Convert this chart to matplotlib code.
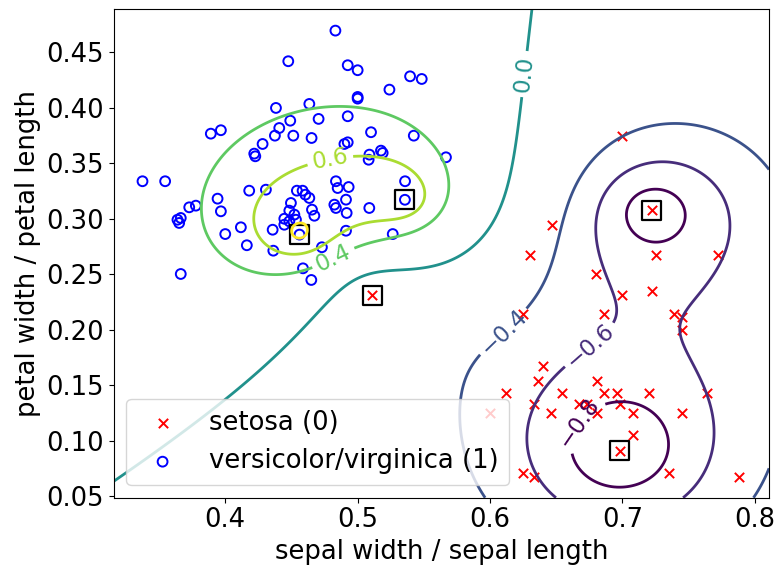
import numpy as np
import matplotlib
matplotlib.use("Agg")
import matplotlib.pyplot as plt

plt.rcParams['font.size'] = 18.6

# setosa (0): sepal width / sepal length, petal width / petal length
setosa_x = [0.700, 0.647, 0.630, 0.680, 0.700, 0.722, 0.725, 0.772, 0.722, 0.686,
            0.739, 0.745, 0.745, 0.625, 0.640, 0.636, 0.612, 0.633, 0.654, 0.681,
            0.686, 0.696, 0.720, 0.764, 0.646, 0.667, 0.673, 0.681, 0.698, 0.708,
            0.708, 0.745, 0.698, 0.625, 0.633, 0.735, 0.788, 0.600, 0.511]
setosa_y = [0.375, 0.294, 0.267, 0.250, 0.231, 0.235, 0.267, 0.267, 0.308, 0.214,
            0.214, 0.211, 0.200, 0.214, 0.167, 0.154, 0.143, 0.133, 0.143, 0.154,
            0.143, 0.143, 0.143, 0.143, 0.125, 0.133, 0.133, 0.125, 0.133, 0.125,
            0.105, 0.125, 0.091, 0.071, 0.067, 0.071, 0.067, 0.125, 0.231]

# versicolor/virginica (1)
other_x = [0.4476, 0.4383, 0.4635, 0.4491, 0.4705, 0.4408, 0.3891, 0.3967, 0.4375, 0.4514,
           0.4652, 0.4282, 0.4219, 0.4227, 0.3375, 0.3546, 0.4181, 0.4307, 0.4541, 0.4584,
           0.4605, 0.4635, 0.4496, 0.4655, 0.4673, 0.3942, 0.3967, 0.3778, 0.3728, 0.3639,
           0.3664, 0.3652, 0.4484, 0.4522, 0.4446, 0.4484, 0.4534, 0.4446, 0.4358, 0.4118,
           0.4000, 0.4561, 0.4163, 0.4363, 0.4730, 0.4587, 0.4650, 0.3664, 0.4832, 0.4925,
           0.5000, 0.5396, 0.5484, 0.5240, 0.5000, 0.5000, 0.4925, 0.5101, 0.5424, 0.4900,
           0.4925, 0.5089, 0.5083, 0.5176, 0.5189, 0.5667, 0.4836, 0.4849, 0.4932, 0.5358,
           0.4912, 0.4824, 0.4836, 0.4917, 0.5088, 0.5357, 0.4912, 0.5265]
other_y = [0.4420, 0.3999, 0.4035, 0.3884, 0.3900, 0.3818, 0.3767, 0.3798, 0.3749, 0.3749,
           0.3728, 0.3674, 0.3587, 0.3563, 0.3338, 0.3338, 0.3253, 0.3262, 0.3253, 0.3253,
           0.3217, 0.3187, 0.3142, 0.3082, 0.3027, 0.3181, 0.3067, 0.3118, 0.3103, 0.2991,
           0.3007, 0.2962, 0.3073, 0.3037, 0.3000, 0.2977, 0.2991, 0.2946, 0.2901, 0.2923,
           0.2862, 0.2857, 0.2761, 0.2712, 0.2743, 0.2553, 0.2448, 0.2502, 0.4696, 0.4384,
           0.4339, 0.4284, 0.4260, 0.4164, 0.4098, 0.4083, 0.3924, 0.3780, 0.3749, 0.3674,
           0.3689, 0.3578, 0.3532, 0.3614, 0.3593, 0.3554, 0.3338, 0.3277, 0.3286, 0.3338,
           0.3172, 0.3127, 0.3097, 0.3052, 0.3097, 0.3171, 0.2892, 0.2862]

# kernel model: centres (squares), their labels as weights, kernel width
center_x = [0.4561, 0.5357, 0.5111, 0.7222, 0.6977]
center_y = [0.2857, 0.3171, 0.2308, 0.3077, 0.0909]
weights = [1.0, 1.0, -1.0, -1.0, -1.0]
width = 0.101
levels = [-0.8, -0.6, -0.4, 0.0, 0.4, 0.6, 0.8]

xlim = (0.3156, 0.8107)
ylim = (0.0485, 0.4891)

xx, yy = np.meshgrid(np.linspace(xlim[0], xlim[1], 500), np.linspace(ylim[0], ylim[1], 500))
zz = np.zeros_like(xx)
for cx, cy, w in zip(center_x, center_y, weights):
    zz += w * np.exp(-np.sqrt((xx - cx) ** 2 + (yy - cy) ** 2) / width)

fig, ax = plt.subplots(figsize=(7.79, 5.69), dpi=100)
fig.subplots_adjust(left=0.1457, right=0.9872, top=0.9842, bottom=0.1253)

cs = ax.contour(xx, yy, zz, levels=levels, cmap='viridis', vmin=-0.8, vmax=0.8, linewidths=2.0)
# label positions picked to sit where the reference puts them
ax.clabel(cs, fontsize=16.5, inline=True,
          manual=[(0.6255, 0.4305), (0.479, 0.3548), (0.4813, 0.2655),
                  (0.6107, 0.1974), (0.6761, 0.1848), (0.667, 0.1163)])

ax.scatter(setosa_x, setosa_y, marker='x', c='r', s=45, linewidths=1.4, label='setosa (0)')
ax.scatter(other_x, other_y, marker='o', facecolors='none', edgecolors='b', s=50,
           linewidths=1.4, label='versicolor/virginica (1)')
ax.scatter(center_x, center_y, marker='s', facecolors='none', edgecolors='k', s=190, linewidths=1.6)

ax.set_xlim(xlim)
ax.set_ylim(ylim)
ax.set_xlabel('sepal width / sepal length')
ax.set_ylabel('petal width / petal length')
ax.legend(loc='lower left')

fig.savefig('out.png')
